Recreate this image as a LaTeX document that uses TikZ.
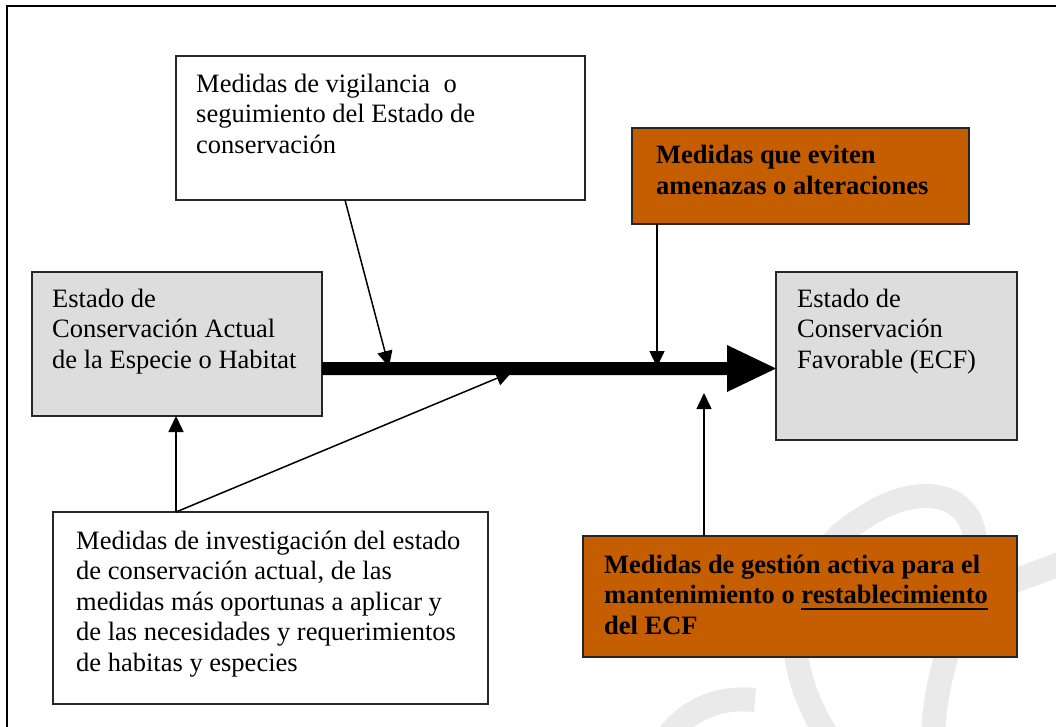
\documentclass[tikz,border=0pt]{standalone}
\usepackage{fontspec}
\setmainfont{Liberation Serif}
\usetikzlibrary{arrows.meta,calc}
\definecolor{boxgray}{HTML}{DDDDDD}
\definecolor{boxorange}{HTML}{C55E00}
\definecolor{wmgray}{HTML}{EAEAEA}
\newcommand\myul[1]{\setbox0\hbox{#1}\rlap{\rule[-6pt]{\wd0}{2pt}}\box0}
\begin{document}
\begin{tikzpicture}[x=1pt,y=-1pt,
  box/.style={draw=black!85, line width=1.5pt, rectangle, inner sep=0pt, outer sep=0pt, anchor=north west},
  whitebox/.style={box, fill=white},
  graybox/.style={box, fill=boxgray},
  orangebox/.style={box, fill=boxorange},
  txt/.style={anchor=north west, inner sep=0pt, align=left,
    font=\fontsize{26.5}{30.5}\selectfont, execute at begin node=\strut},
  boldtxt/.style={txt, font=\fontsize{26.5}{30.5}\selectfont\bfseries},
  conn/.style={line width=1.5pt, -{Triangle[length=16pt,width=15pt]}},
  wm/.style={line width=24pt, draw=wmgray}
]
\useasboundingbox (0,0) rectangle (1056,727);
\clip (0,0) rectangle (1056,727);
\fill[white] (0,0) rectangle (1056,727);
% watermark
\draw[wm] (830,740) .. controls (770,650) and (790,560) .. (868,515)
          .. controls (920,482) and (975,492) .. (975,545)
          .. controls (975,600) and (935,650) .. (933,740);
\draw[wm] (990,590) .. controls (1015,580) and (1040,572) .. (1065,562);
\draw[wm] (665,740) .. controls (685,712) and (715,696) .. (755,700);
% outer frame
\draw[line width=2pt] (7,740) -- (7,6) -- (1070,6);
% boxes
\node[whitebox, minimum width=409pt, minimum height=144pt] (A) at (176,56) {};
\node[graybox, minimum width=290pt, minimum height=144pt] (B) at (32,272) {};
\node[graybox, minimum width=241pt, minimum height=168pt] (C) at (776,272) {};
\node[orangebox, minimum width=337pt, minimum height=96pt] (D) at (632,128) {};
\node[orangebox, minimum width=434pt, minimum height=121pt] (E) at (583,536) {};
\node[whitebox, minimum width=435pt, minimum height=192pt] (F) at (53,512) {};
% texts
\node[txt] (tA) at ([shift={(20,17.5)}]A.north west) {Medidas de vigilancia\ \ o\\seguimiento del Estado de\\conservación};
\node[txt] (tB) at ([shift={(20,16.5)}]B.north west) {Estado de\\Conservación Actual\\de la Especie o Habitat};
\node[txt] (tC) at ([shift={(21,16.5)}]C.north west) {Estado de\\Conservación\\Favorable (ECF)};
\node[boldtxt] (tD) at ([shift={(24,17)}]D.north west) {Medidas que eviten\\amenazas o alteraciones};
\node[boldtxt] (tE) at ([shift={(21,18.5)}]E.north west) {Medidas de gestión activa para el\\mantenimiento o \myul{restablecimiento}\\del ECF};
\node[txt] (tF) at ([shift={(23,18.5)}]F.north west) {Medidas de investigación del estado\\de conservación actual, de las\\medidas más oportunas a aplicar y\\de las necesidades y requerimientos\\de habitas y especies};
% main thick arrow
\coordinate (ylev) at (0,368.5);
\coordinate (bs) at (B.east |- ylev);
\coordinate (be) at (C.west |- ylev);
\fill ($(bs)+(0,-6.5)$) -- ($(be)+(-49,-6.5)$) -- ($(be)+(-49,-23.5)$) -- (be)
  -- ($(be)+(-49,23.5)$) -- ($(be)+(-49,6.5)$) -- ($(bs)+(0,6.5)$) -- cycle;
% connector end points on the bar
\coordinate (pA) at (389,367);
\coordinate (pD) at (657,367);
\coordinate (pE) at (704,393);
\coordinate (pF) at (512,372);
\coordinate (sF) at ([xshift=123pt]F.north west);
\draw[conn] ([xshift=169pt]A.south west) -- (pA);
\draw[conn] ([xshift=25pt]D.south west) -- (pD);
\draw[conn] ([xshift=121pt]E.north west) -- (pE);
\draw[conn] (sF) -- (sF |- B.south);
\draw[conn] (sF) -- (pF);
\end{tikzpicture}
\end{document}
